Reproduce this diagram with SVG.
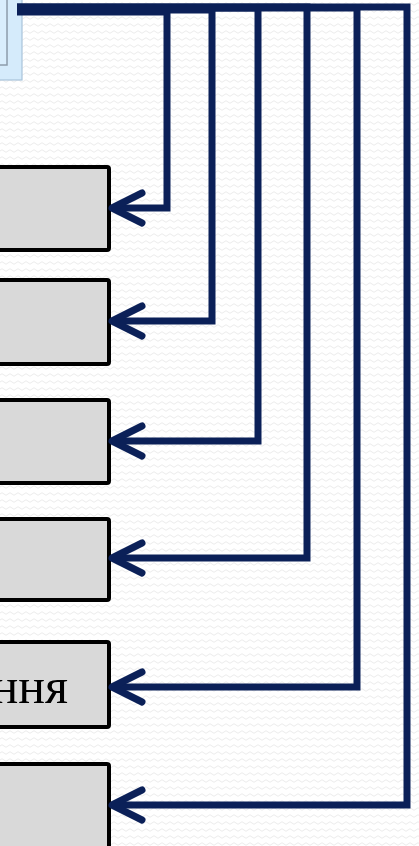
<svg xmlns="http://www.w3.org/2000/svg" width="419" height="846" viewBox="0 0 419 846">
  <defs>
    <pattern id="bg" width="8" height="7" patternUnits="userSpaceOnUse">
      <rect width="8" height="7" fill="#ffffff"/>
      <path d="M0 4 Q2 1.5 4 4 T8 4" fill="none" stroke="#ececec" stroke-width="1"/>
    </pattern>
    <marker id="arrow" viewBox="-40 -20 45 40" refX="0" refY="0" markerWidth="45" markerHeight="40" markerUnits="userSpaceOnUse" orient="auto" overflow="visible">
      <path d="M-30,-15 L0,0 L-30,15" fill="none" stroke="#0b2058" stroke-width="7" stroke-linecap="round" stroke-linejoin="round"/>
    </marker>
    <style>
      .box { fill: #d9d9d9; stroke: #000000; stroke-width: 4; }
      .conn { fill: none; stroke: #0b2058; stroke-width: 7; stroke-linejoin: miter; marker-end: url(#arrow); }
      .label { font-family: "Liberation Serif", "Times New Roman", serif; font-size: 50px; fill: #000000; }
    </style>
  </defs>
  <rect x="0" y="0" width="419" height="846" fill="url(#bg)"/>

  <g id="source">
    <rect x="-5" y="-5" width="27" height="85" fill="#d5ebfb" stroke="#a9c4da" stroke-width="1.2"/>
    <rect x="-5" y="-5" width="12" height="70" fill="#d9eefd" stroke="#8c9cab" stroke-width="1.5"/>
  </g>

  <g id="node1">
    <rect class="box" x="-10" y="167" width="119" height="83" rx="2"/>
  </g>
  <g id="node2">
    <rect class="box" x="-10" y="280" width="119" height="84" rx="2"/>
  </g>
  <g id="node3">
    <rect class="box" x="-10" y="400" width="119" height="83" rx="2"/>
  </g>
  <g id="node4">
    <rect class="box" x="-10" y="519" width="119" height="81" rx="2"/>
  </g>
  <g id="node5">
    <rect class="box" x="-10" y="642" width="119" height="85" rx="2"/>
    <text class="label" x="68" y="703" text-anchor="end">ння</text>
  </g>
  <g id="node6">
    <rect class="box" x="-10" y="764" width="119" height="90" rx="2"/>
  </g>

  <g id="connectors">
    <path class="conn" d="M17,7 H407 V805 H112"/>
    <path class="conn" d="M17,8 H357 V687 H112"/>
    <path class="conn" d="M17,7 H307 V558 H112"/>
    <path class="conn" d="M17,8 H258 V441 H112"/>
    <path class="conn" d="M17,10 H212 V321 H112"/>
    <path class="conn" d="M17,12 H167 V208 H112"/>
  </g>
</svg>
